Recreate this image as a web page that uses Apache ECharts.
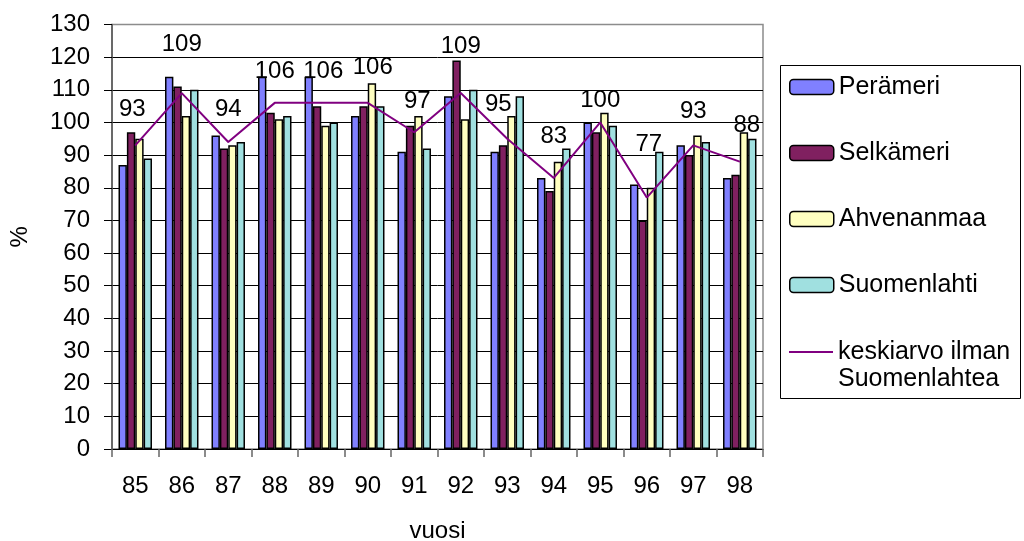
<!DOCTYPE html>
<html>
<head>
<meta charset="utf-8">
<script src="https://cdn.jsdelivr.net/npm/echarts@6/dist/echarts.min.js"></script>
<style>
  html, body { margin: 0; padding: 0; background: #fff; }
  #chart { width: 1024px; height: 541px; }
</style>
</head>
<body>
<div id="chart"></div>
<script>
// Years (vuosi) on the category axis
const years = ['85', '86', '87', '88', '89', '90', '91', '92', '93', '94', '95', '96', '97', '98'];

// Percent values per sea area
const peramari = [87, 114, 96, 114, 114, 102, 91, 108, 91, 83, 100, 81, 93, 83];
const selkameri = [97, 111, 92, 103, 105, 105, 99, 119, 93, 79, 97, 70, 90, 84];
const ahvenanmaa = [95, 102, 93, 101, 99, 112, 102, 101, 102, 88, 103, 80, 96, 97];
const suomenlahti = [89, 110, 94, 102, 100, 105, 92, 110, 108, 92, 99, 91, 94, 95];

// Mean without the Gulf of Finland
const keskiarvo = [93, 109, 94, 106, 106, 106, 97, 109, 95, 83, 100, 77, 93, 88];

// Y axis range
const yMin = 0, yMax = 130, yStep = 10;

// Hand-placed nudges for the mean labels, [dx, dy] in pixels (label layout only)
const labelNudge = [
  [-3, -2], [0, -15], [0, 1], [0, 2], [2, 2], [5, -2], [3, 3],
  [0, -13], [-9, -1], [0, -8], [0, 11], [2, -20], [0, 0], [7, -3]
];

const FONT = '"Liberation Sans", Arial, sans-serif';
const FS = 24;
const LEGEND_FS = 25;

const barSeries = [
  { name: 'Perämeri', data: peramari, color: '#8080FF' },
  { name: 'Selkämeri', data: selkameri, color: '#802060' },
  { name: 'Ahvenanmaa', data: ahvenanmaa, color: '#FFFFC0' },
  { name: 'Suomenlahti', data: suomenlahti, color: '#A0E0E0' }
].map(s => ({
  name: s.name,
  type: 'bar',
  data: s.data,
  barGap: '0%',
  barCategoryGap: '28%',
  itemStyle: { color: s.color, borderColor: '#000', borderWidth: 1.5 },
  emphasis: { disabled: true }
}));

const lineName = 'keskiarvo ilman\nSuomenlahtea';

// split line colours: black inside the plot, grey along the top edge
const splitColors = [];
for (let v = yMin; v <= yMax; v += yStep) splitColors.push(v === yMax ? '#8c8c8c' : '#000');

const legendText = { fontFamily: FONT, fontSize: LEGEND_FS, color: '#000', lineHeight: 27 };

const chart = echarts.init(document.getElementById('chart'), null, { renderer: 'canvas' });
chart.setOption({
  animation: false,
  backgroundColor: '#fff',
  textStyle: { fontFamily: FONT, color: '#000' },
  grid: {
    left: 112, top: 24.5, right: 261, bottom: 92,
    outerBoundsMode: 'none',
    containLabel: false,
    show: true, borderColor: '#8c8c8c', borderWidth: 1.5, backgroundColor: '#fff'
  },
  legend: [
    {
      orient: 'vertical',
      left: 784, top: 68.5,
      itemWidth: 44, itemHeight: 15,
      itemGap: 39,
      selectedMode: false,
      textStyle: legendText,
      data: ['Perämeri', 'Selkämeri', 'Ahvenanmaa', 'Suomenlahti'].map(n => ({
        name: n, itemStyle: { borderColor: '#000', borderWidth: 1.5 }
      }))
    },
    {
      // mean line entry; the leading blank line keeps the icon level with the first text line
      orient: 'vertical',
      left: 784, top: 306.5,
      itemWidth: 44, itemHeight: 15,
      selectedMode: false,
      textStyle: legendText,
      formatter: name => ' \n' + name,
      data: [{ name: lineName, icon: 'path://M0,0L44,0L44,2L0,2Z', itemStyle: { color: '#800080' } }]
    }
  ],
  graphic: [{
    type: 'rect',
    shape: { x: 780.5, y: 65.5, width: 240, height: 333 },
    style: { fill: 'none', stroke: '#000', lineWidth: 1 },
    silent: true
  }],
  xAxis: {
    type: 'category',
    data: years,
    name: 'vuosi',
    nameLocation: 'middle',
    nameGap: 70,
    nameTextStyle: { fontFamily: FONT, fontSize: FS, color: '#000' },
    axisLine: { lineStyle: { color: '#000', width: 1 } },
    axisTick: { show: true, length: 8, lineStyle: { color: '#666', width: 1.5 } },
    axisLabel: { fontFamily: FONT, fontSize: FS, color: '#000', margin: 25 }
  },
  yAxis: {
    type: 'value',
    min: yMin, max: yMax, interval: yStep,
    name: '%',
    nameLocation: 'middle',
    nameRotate: 90,
    nameGap: 80,
    nameTextStyle: { fontFamily: FONT, fontSize: FS, color: '#000' },
    axisLine: { show: true, lineStyle: { color: '#555', width: 1.5 } },
    axisTick: { show: true, length: 8, lineStyle: { color: '#000', width: 1 } },
    axisLabel: { fontFamily: FONT, fontSize: FS, color: '#000', margin: 22 },
    splitLine: { show: true, lineStyle: { color: splitColors, width: 1 } }
  },
  series: [
    ...barSeries,
    {
      name: lineName,
      type: 'line',
      data: keskiarvo.map((v, i) => ({
        value: v,
        label: { offset: labelNudge[i] }
      })),
      symbol: 'circle',
      symbolSize: 1,
      showSymbol: true,
      z: 5,
      lineStyle: { color: '#800080', width: 2 },
      itemStyle: { color: '#800080' },
      label: {
        show: true, position: 'top', distance: 21,
        fontFamily: FONT, fontSize: FS, color: '#000'
      },
      emphasis: { disabled: true }
    }
  ]
});
</script>
</body>
</html>
